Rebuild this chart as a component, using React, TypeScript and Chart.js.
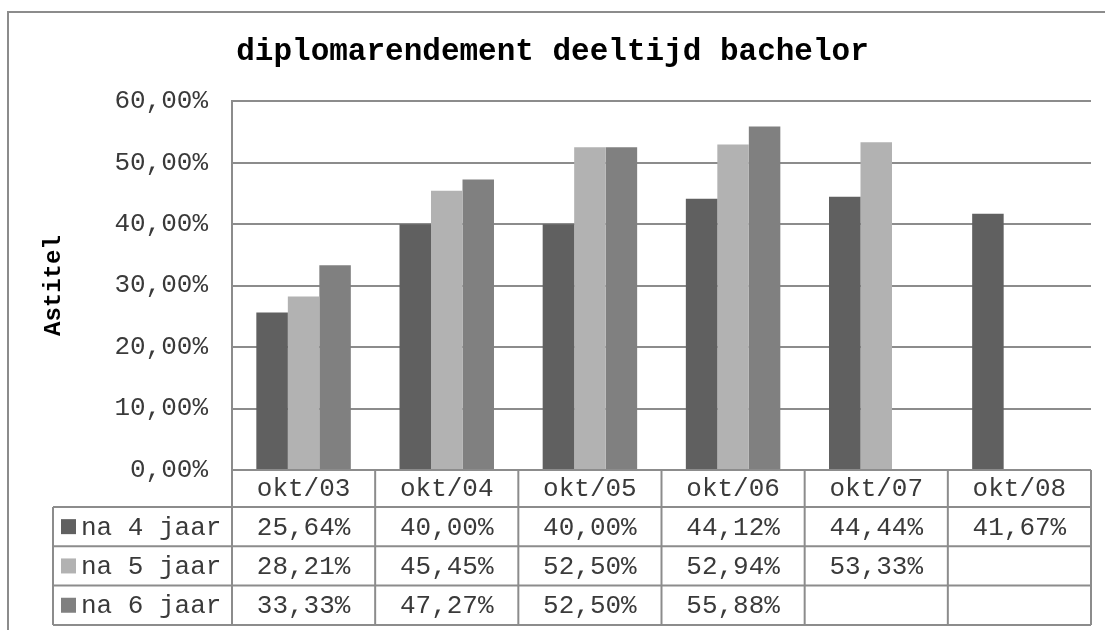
import React, { useEffect, useRef } from 'react';
import { Chart, registerables } from 'chart.js';
Chart.register(...registerables);

const categories = ['okt/03', 'okt/04', 'okt/05', 'okt/06', 'okt/07', 'okt/08'];
const seriesNames = ['na 4 jaar', 'na 5 jaar', 'na 6 jaar'];
const na4: (number | null)[] = [25.64, 40.0, 40.0, 44.12, 44.44, 41.67];
const na5: (number | null)[] = [28.21, 45.45, 52.5, 52.94, 53.33, null];
const na6: (number | null)[] = [33.33, 47.27, 52.5, 55.88, null, null];
const seriesValues = [na4, na5, na6];
const seriesColors = ['#606060', '#b2b2b2', '#808080'];
const titleText = 'diplomarendement deeltijd bachelor';
const yAxisTitle = 'Astitel';
const yMin = 0;
const yMax = 60;
const yStep = 10;

const FONT = '"Liberation Mono", "Courier New", monospace';
const LINE = '#8c8c8c';
const TEXT = '#3a3a3a';

const fmt = (v: number) => v.toFixed(2).replace('.', ',') + '%';

const tablePlugin = {
  id: 'dataTable',
  afterDraw(chart: any) {
    const { ctx, chartArea } = chart;
    const { left, right, bottom } = chartArea;
    const n = categories.length;
    const cw = (right - left) / n;
    const headerH = 37;
    const rowH = 39.3;
    const legendLeft = 53;
    const y1 = bottom + headerH;
    const yEnd = y1 + rowH * seriesNames.length;
    ctx.save();
    ctx.strokeStyle = LINE;
    ctx.lineWidth = 2;
    const line = (xa: number, ya: number, xb: number, yb: number) => {
      ctx.beginPath();
      ctx.moveTo(xa, ya);
      ctx.lineTo(xb, yb);
      ctx.stroke();
    };
    line(left, bottom, right, bottom);
    for (let r = 0; r <= seriesNames.length; r++) {
      const y = y1 + r * rowH;
      line(legendLeft, y, right, y);
    }
    for (let i = 0; i <= n; i++) {
      const x = left + i * cw;
      line(x, bottom, x, yEnd);
    }
    line(legendLeft, y1, legendLeft, yEnd);

    ctx.font = '26px ' + FONT;
    ctx.fillStyle = TEXT;
    ctx.textAlign = 'center';
    ctx.textBaseline = 'middle';
    categories.forEach((c, i) => {
      ctx.fillText(c, left + (i + 0.5) * cw, bottom + headerH / 2 + 1);
    });
    seriesValues.forEach((vals, r) => {
      const cy = y1 + (r + 0.5) * rowH + 1;
      vals.forEach((v, i) => {
        if (v !== null) ctx.fillText(fmt(v), left + (i + 0.5) * cw, cy);
      });
    });
    ctx.textAlign = 'left';
    seriesNames.forEach((name, r) => {
      const cy = y1 + (r + 0.5) * rowH;
      ctx.fillStyle = seriesColors[r];
      ctx.fillRect(61, cy - 7.5, 15, 15);
      ctx.fillStyle = TEXT;
      ctx.fillText(name, 81, cy + 1);
    });

    // outer chart border
    ctx.strokeStyle = '#8c8c8c';
    ctx.lineWidth = 2;
    line(8, 11, 8, 630);
    line(7, 12, 1105, 12);
    ctx.restore();
  },
};

export default function App() {
  const ref = useRef<HTMLCanvasElement>(null);
  useEffect(() => {
    if (!ref.current) return;
    const chart = new Chart(ref.current, {
      type: 'bar',
      data: {
        labels: categories,
        datasets: seriesNames.map((name, i) => ({
          label: name,
          data: seriesValues[i],
          backgroundColor: seriesColors[i],
          borderWidth: 0,
          categoryPercentage: 0.66,
          barPercentage: 1.0,
        })),
      },
      options: {
        responsive: false,
        animation: false,
        devicePixelRatio: 1,
        layout: { padding: { left: 0, right: 0, top: 0, bottom: 0 } },
        plugins: {
          legend: { display: false },
          tooltip: { enabled: false },
          title: {
            display: true,
            text: titleText,
            color: '#000',
            font: { family: FONT, size: 31, weight: 'bold' },
            padding: { top: 34, bottom: 30 },
          },
        },
        scales: {
          x: {
            ticks: { display: false },
            grid: { display: false },
            border: { display: false },
            afterFit: (scale: any) => {
              scale.height = 160;
            },
          },
          y: {
            min: yMin,
            max: yMax,
            ticks: {
              stepSize: yStep,
              padding: 24,
              color: TEXT,
              font: { family: FONT, size: 26 },
              callback: (v: any) => fmt(Number(v)),
            },
            grid: { color: LINE, lineWidth: 2, drawTicks: false },
            border: { display: true, color: LINE, width: 2 },
            title: {
              display: true,
              text: yAxisTitle,
              color: '#000',
              font: { family: FONT, size: 24, weight: 'bold' },
              padding: { top: 40, bottom: 0 },
            },
            afterFit: (scale: any) => {
              scale.width = 232;
            },
          },
          yRight: {
            position: 'right',
            display: true,
            ticks: { display: false },
            grid: { display: false, drawOnChartArea: false },
            border: { display: false },
            afterFit: (scale: any) => {
              scale.width = 14;
            },
          },
        },
      },
      plugins: [tablePlugin],
    } as any);
    return () => chart.destroy();
  }, []);
  return (
    <div style={{ position: 'absolute', left: 0, top: 0, width: 1105, height: 630, background: '#fff' }}>
      <canvas ref={ref} width={1105} height={630} />
    </div>
  );
}
